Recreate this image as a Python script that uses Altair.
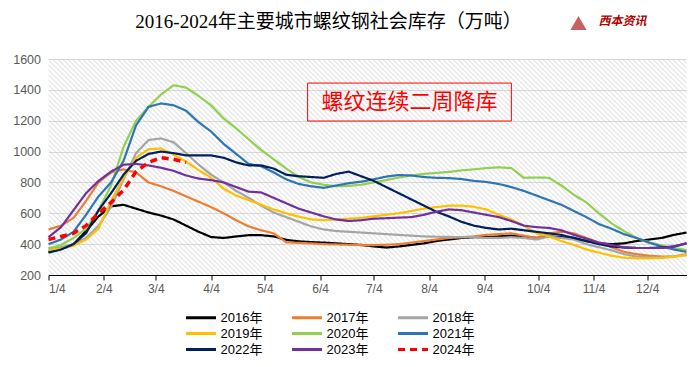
import altair as alt
import pandas as pd
import numpy as np

years = ["2016年", "2017年", "2018年", "2019年", "2020年", "2021年", "2022年", "2023年", "2024年"]
colors = ["#000000", "#ed7d31", "#a5a5a5", "#ffc000", "#92d050", "#2e75b6", "#002060", "#7030a0", "#ff0000"]

v2016 = [350, 368, 400, 485, 580, 645, 655, 630, 605, 585, 560, 520, 480, 446, 440, 450, 458, 458, 450, 428,
         418, 413, 410, 405, 400, 395, 385, 378, 385, 395, 405, 420, 430, 440, 445, 445, 450, 455, 450, 440,
         450, 445, 440, 420, 405, 400, 405, 420, 430, 440, 460, 475]
v2017 = [495, 520, 570, 680, 800, 865, 885, 865, 800, 775, 745, 710, 675, 640, 600, 555, 515, 490, 470, 412,
         408, 405, 400, 398, 396, 394, 394, 396, 400, 410, 420, 430, 440, 445, 450, 460, 465, 470, 455, 440,
         470, 480, 470, 440, 410, 380, 350, 335, 325, 320, 320, 335]
v2018 = [375, 380, 400, 440, 520, 640, 820, 990, 1075, 1085, 1060, 990, 915, 850, 800, 745, 700, 650, 605, 575,
         545, 515, 495, 485, 480, 475, 470, 465, 460, 455, 450, 448, 447, 445, 445, 440, 440, 445, 440, 430,
         450, 440, 430, 400, 380, 360, 335, 320, 315, 315, 320, 330]
v2019 = [360, 370, 390, 430, 500, 680, 830, 960, 1015, 1020, 980, 935, 880, 830, 760, 715, 685, 655, 625, 600,
         578, 560, 555, 560, 565, 570, 580, 590, 600, 615, 630, 640, 650, 650, 642, 625, 590, 560, 520, 470,
         450, 420, 395, 365, 345, 325, 312, 308, 308, 310, 318, 330]
v2020 = [370, 395, 440, 500, 620, 780, 1030, 1200, 1290, 1370, 1430, 1415, 1360, 1300, 1215, 1150, 1080, 1010, 950, 890,
         835, 800, 785, 775, 778, 785, 800, 815, 832, 845, 855, 862, 868, 878, 885, 893, 898, 893, 830, 832,
         830, 780, 720, 670, 600, 535, 485, 440, 412, 392, 375, 362]
v2021 = [400, 430, 480, 590, 710, 800, 940, 1170, 1290, 1312, 1300, 1265, 1190, 1130, 1050, 985, 920, 905, 865, 820,
         790, 775, 765, 780, 795, 805, 820, 838, 848, 845, 835, 830, 828, 822, 810, 803, 790, 770, 745, 715,
         685, 655, 615, 575, 530, 500, 465, 440, 410, 385, 365, 350]
v2022 = [345, 365, 400, 470, 620, 730, 850, 940, 985, 1000, 990, 975, 975, 975, 960, 930, 910, 910, 890, 850,
         840, 835, 830, 855, 870, 840, 810, 770, 730, 690, 650, 610, 580, 545, 520, 505, 495, 500, 490, 480,
         470, 460, 440, 420, 400, 385, 378, 375, 375, 378, 385, 405]
v2023 = [445, 510, 620, 730, 810, 870, 915, 920, 910, 895, 875, 845, 825, 815, 800, 770, 740, 735, 700, 665,
         630, 605, 580, 560, 550, 555, 565, 568, 572, 575, 590, 610, 625, 620, 605, 590, 575, 550, 520, 510,
         505, 490, 460, 435, 410, 395, 380, 375, 375, 375, 385, 405]
v2024 = [430, 450, 470, 520, 600, 670, 750, 870, 930, 960, 950, 930]

series = [v2016, v2017, v2018, v2019, v2020, v2021, v2022, v2023, v2024]

tick_days = [0, 31, 60, 91, 121, 152, 182, 213, 244, 274, 305, 335]
tick_labels = ["1/4", "2/4", "3/4", "4/4", "5/4", "6/4", "7/4", "8/4", "9/4", "10/4", "11/4", "12/4"]
y_ticks = [200, 400, 600, 800, 1000, 1200, 1400, 1600]

title_text = ["2016-2024年主要城市螺纹钢社会库存（万吨）"]
logo_text = ["西本资讯"]
note_text = ["螺纹连续二周降库"]
note_x = [145, 259]
note_y = [1198, 1444]

rows = []
for yr, vals in zip(years, series):
    for i, v in enumerate(vals):
        rows.append({"year": yr, "day": 7 * i, "value": v})
df = pd.DataFrame(rows)

W, H = 638, 216
xmax = 357
x_scale = alt.Scale(domain=[0, xmax], nice=False, zero=False)
y_scale = alt.Scale(domain=[200, 1600], nice=False, zero=False)

label_expr = "[" + ",".join(f"'{t}'" for t in tick_labels) + "][indexof([" + ",".join(str(d) for d in tick_days) + "], datum.value)]"
x_axis = alt.Axis(values=tick_days, labelExpr=label_expr, grid=False, domainColor="#000000",
                  tickColor="#000000", tickSize=5, labelColor="#595959", labelFontSize=12,
                  labelFont="Liberation Sans", labelPadding=3, domainWidth=1, title=None,
                  labelOverlap=False)
y_axis = alt.Axis(values=y_ticks, format="d", domain=False, ticks=False, gridColor="#d9d9d9", gridWidth=1,
                  labelColor="#595959", labelFontSize=12.5, labelFont="Liberation Sans", labelPadding=8,
                  title=None, labelOverlap=False, labelSeparation=0, tickCount=8, labelBound=False)

# background hatch texture (45 degree lines in pixel space)
px_per_day = W / xmax
span = H / px_per_day
starts = np.arange(-span, xmax, 5 / px_per_day)
hatch_df = pd.DataFrame({"x": starts, "x2": starts + span, "y": 1600, "y2": 200})
hatch = alt.Chart(hatch_df).mark_rule(clip=True, stroke="#cacaca", strokeWidth=0.8).encode(
    x=alt.X("x:Q", scale=x_scale, axis=x_axis),
    x2="x2:Q",
    y=alt.Y("y:Q", scale=y_scale, axis=y_axis),
    y2="y2:Q",
)

dash_range = [[1, 0]] * 8 + [[7, 5]]

leg = alt.Legend(
    title=None, orient="none", legendX=146, legendY=252, direction="horizontal", columns=3,
    symbolType="M-3,0H3", symbolSize=100, symbolStrokeWidth=3, labelFontSize=13, labelColor="#000000",
    labelFont="Liberation Sans, Noto Sans CJK SC", columnPadding=23, rowPadding=2, labelOffset=13,
)

lines = alt.Chart(df).mark_line(strokeJoin="round").encode(
    x=alt.X("day:Q", scale=x_scale, axis=x_axis),
    y=alt.Y("value:Q", scale=y_scale, axis=y_axis),
    color=alt.Color("year:N", scale=alt.Scale(domain=years, range=colors), legend=leg),
    strokeDash=alt.StrokeDash("year:N", scale=alt.Scale(domain=years, range=dash_range), legend=leg),
    strokeWidth=alt.condition("datum.year == '2024年'", alt.value(3.5), alt.value(2.2)),
)

box_df = pd.DataFrame({"x": [note_x[0]], "x2": [note_x[1]], "y": [note_y[0]], "y2": [note_y[1]],
                       "xc": [sum(note_x) / 2], "yc": [sum(note_y) / 2], "t": note_text})
box = alt.Chart(box_df).mark_rect(fill=None, stroke="#ff0000", strokeWidth=1).encode(
    x=alt.X("x:Q", scale=x_scale), x2="x2:Q", y=alt.Y("y:Q", scale=y_scale), y2="y2:Q")
note = alt.Chart(box_df).mark_text(color="#ff0000", fontSize=22, font="Noto Sans CJK SC").encode(
    x=alt.X("xc:Q", scale=x_scale), y=alt.Y("yc:Q", scale=y_scale), text="t:N")

title = alt.Chart(pd.DataFrame({"t": title_text})).mark_text(
    fontSize=19, color="#000000", font="Liberation Serif, Noto Sans CJK SC", align="center", baseline="middle"
).encode(x=alt.value(280), y=alt.value(-37), text="t:N")

logo_icon = alt.Chart(pd.DataFrame({"t": ["a"]})).mark_point(
    shape="triangle-up", filled=True, color="#c0504d", size=260, opacity=0.9
).encode(x=alt.value(530), y=alt.value(-36))
logo = alt.Chart(pd.DataFrame({"t": logo_text})).mark_text(
    color="#b00000", fontSize=12, fontWeight="bold", fontStyle="italic", font="Noto Sans CJK SC",
    align="left", baseline="middle"
).encode(x=alt.value(550), y=alt.value(-38), text="t:N")

chart = alt.layer(hatch, lines, box, note, title, logo_icon, logo).properties(
    width=W, height=H,
    padding={"left": 40.5, "top": 51, "right": 5.5, "bottom": 84},
    autosize=alt.AutoSizeParams(type="none"),
).configure_view(stroke=None).configure_axis(labelOverlap=False)

chart.save("out.html", embed_options={"renderer": "svg", "actions": False})
